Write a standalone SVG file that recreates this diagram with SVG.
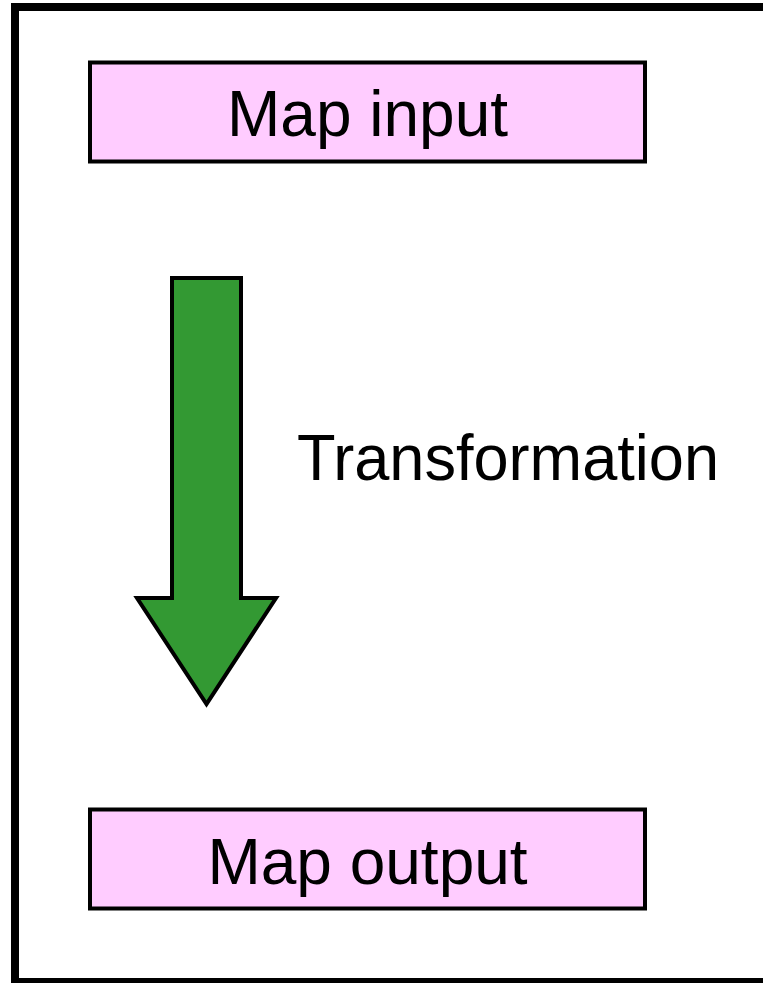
<svg xmlns="http://www.w3.org/2000/svg" width="763" height="983" viewBox="0 0 763 983">
<style>
.box{fill:#FFCCFF;stroke:#000;stroke-width:4}
.lbl{font-family:"Liberation Sans",Arial,sans-serif;font-size:64px;fill:#000}
</style>
<rect x="0" y="0" width="763" height="983" fill="#fff"/>
<rect x="15" y="7" width="760" height="975" fill="none" stroke="#000" stroke-width="8"/>
<g id="map-input">
<rect class="box" x="90" y="62.5" width="555" height="99"/>
<text class="lbl" x="367.5" y="136" text-anchor="middle">Map input</text>
</g>
<g id="connectors">
<polygon points="172,278 241,278 241,598 276,598 206.5,704 137,598 172,598" fill="#339933" stroke="#000" stroke-width="4"/>
<text class="lbl" x="297" y="480" textLength="422" lengthAdjust="spacingAndGlyphs">Transformation</text>
</g>
<g id="map-output">
<rect class="box" x="90" y="809.5" width="555" height="99"/>
<text class="lbl" x="367.5" y="884" text-anchor="middle">Map output</text>
</g>
</svg>
